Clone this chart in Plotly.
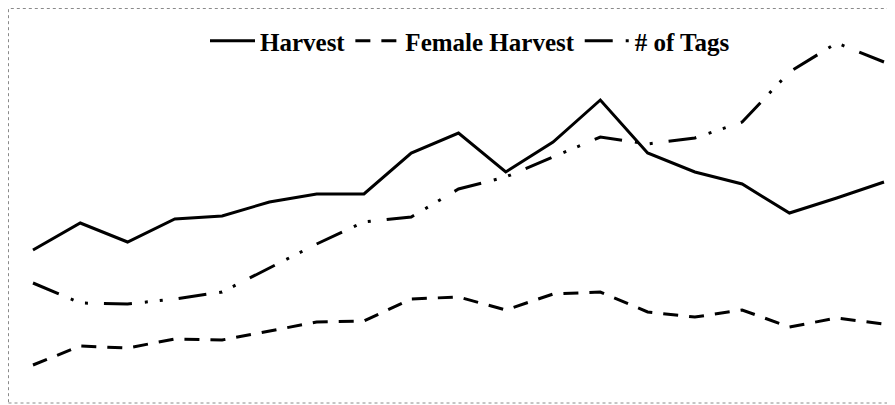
import plotly.graph_objects as go

# Relative values (no axis shown in the reference)
years = list(range(19))
harvest = [155, 182, 163, 186, 189, 203, 211, 211, 252, 272, 233, 263, 305, 252, 233, 221, 192, 207, 223]
female_harvest = [40, 59, 57, 66, 65, 74, 83, 84, 106, 108, 95, 111, 113, 93, 88, 95, 78, 87, 81]
num_tags = [122, 102, 101, 106, 113, 137, 161, 183, 188, 216, 228, 248, 268, 261, 267, 283, 333, 362, 343]
series_names = ["Harvest", "Female Harvest", "# of Tags"]

W, H = 895, 405
OFF = 8  # page body margin
fig = go.Figure()
fig.add_trace(go.Scatter(x=years, y=harvest, mode="lines", name=series_names[0],
                         line=dict(color="black", width=3)))
fig.add_trace(go.Scatter(x=years, y=female_harvest, mode="lines", name=series_names[1],
                         line=dict(color="black", width=3, dash="15px,11px")))
fig.add_trace(go.Scatter(x=years, y=num_tags, mode="lines", name=series_names[2],
                         line=dict(color="black", width=3, dash="28px,13px,3px,12px,3px,16px")))

x_first, x_last = 33 - OFF, 884 - OFF
step = (x_last - x_first) / 18
xmin = -x_first / step
xmax = 18 + (W - x_last) / step

fig.update_layout(
    width=W, height=H,
    margin=dict(l=0, r=0, t=0, b=0),
    paper_bgcolor="white", plot_bgcolor="white",
    xaxis=dict(visible=False, range=[xmin, xmax]),
    yaxis=dict(visible=False, range=[-OFF, H - OFF]),
    showlegend=True,
    legend=dict(orientation="h", x=(470 - OFF) / W, xanchor="center",
                y=1 - (41 - OFF) / H, yanchor="middle",
                font=dict(family="Liberation Serif", size=25, color="black", weight="bold"),
                bgcolor="rgba(0,0,0,0)", itemwidth=45, tracegroupgap=0),
    shapes=[dict(type="rect", xref="paper", yref="paper",
                 x0=0.5 / W, x1=1.02, y0=(OFF + 2) / H, y1=1 - 0.5 / H,
                 line=dict(color="#8a8a8a", width=1, dash="dot"))],
)

fig.write_html("out.html")
